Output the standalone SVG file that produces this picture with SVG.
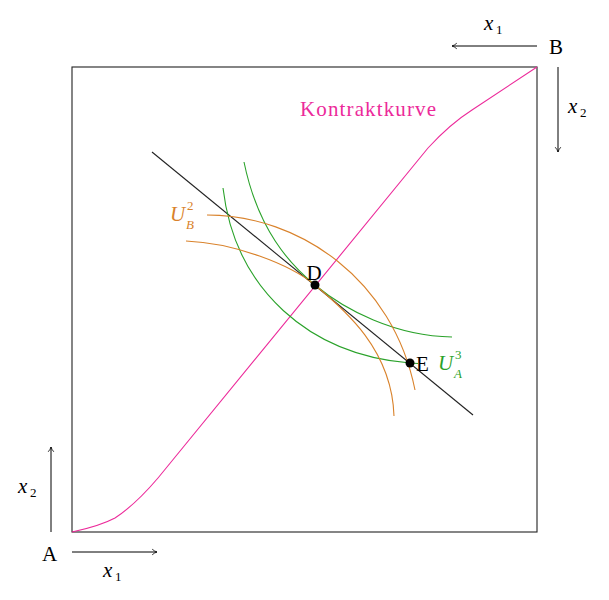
<svg xmlns="http://www.w3.org/2000/svg" width="609" height="600" viewBox="0 0 609 600">
<style>
.t{font-family:"Liberation Serif","Times New Roman",Times,"DejaVu Serif","Noto Serif",serif;font-size:21px;fill:#000}
.i{font-style:italic}
.s{font-size:13px}
.ln{fill:none;stroke-width:1.1}
.or{fill:#d9822b}
.gr{fill:#2aa22a}
</style>
<defs>
<marker id="ar" viewBox="0 0 10 10" refX="9" refY="5" markerWidth="8" markerHeight="8" orient="auto" markerUnits="userSpaceOnUse">
<path d="M3,1.5 Q6,4.2 9,5 Q6,5.8 3,8.5" fill="none" stroke="#000" stroke-width="1"/>
</marker>
</defs>
<rect width="609" height="600" fill="#fff"/>
<g id="box"><rect x="72" y="67" width="465" height="465" fill="none" stroke="#222" stroke-width="1.1"/></g>
<g id="connectors">
<line x1="537" y1="46" x2="452" y2="46" stroke="#000" stroke-width="1" marker-end="url(#ar)"/>
<line x1="558" y1="67" x2="558" y2="152" stroke="#000" stroke-width="1" marker-end="url(#ar)"/>
<line x1="51" y1="532" x2="51" y2="447" stroke="#000" stroke-width="1" marker-end="url(#ar)"/>
<line x1="72" y1="552" x2="157" y2="552" stroke="#000" stroke-width="1" marker-end="url(#ar)"/>
</g>
<g id="contract"><path class="ln" stroke="#ec2a9a" d="M72,532 Q100,526 115,518 Q135,505 158,478 L428,148 Q450,124 472,110 L537,67"/></g>
<g id="budget"><line x1="152" y1="152" x2="473" y2="415" stroke="#222" stroke-width="1.1"/></g>
<g id="greenA">
<path class="ln" stroke="#2aa22a" d="M244,162 C258,230 290,264.5 315,285 C345,310 395,336 452,337"/>
<path class="ln" stroke="#2aa22a" d="M223,188 C235,290 310,355 410,363 L418,363.5"/>
</g>
<g id="orangeB">
<path class="ln" stroke="#d9822b" d="M186,241 C235,243 290,264.5 315,285 C345,310 392,350 394,416"/>
<path class="ln" stroke="#d9822b" d="M207,215 C300,215 393,280 415,390"/>
</g>
<g id="D"><circle cx="315" cy="285" r="4.5" fill="#000"/><text class="t" x="314" y="280" text-anchor="middle">D</text></g>
<g id="E"><circle cx="410" cy="363" r="4.5" fill="#000"/><text class="t" x="416" y="371">E</text></g>
<g id="labels">
<text class="t" x="300" y="116" textLength="136" lengthAdjust="spacing" style="fill:#ec2a9a">Kontraktkurve</text>
<text class="t" x="549" y="54">B</text>
<text class="t" x="42" y="561">A</text>
<text class="t i" x="484" y="30">x</text><text class="t s" x="496" y="34">1</text>
<text class="t i" x="568" y="113">x</text><text class="t s" x="580" y="117">2</text>
<text class="t i" x="18" y="493">x</text><text class="t s" x="30" y="497">2</text>
<text class="t i" x="103" y="577">x</text><text class="t s" x="115" y="581">1</text>
<text class="t i or" x="170" y="221">U</text><text class="t s or" x="187" y="210">2</text><text class="t s i or" x="186" y="229">B</text>
<text class="t i gr" x="438" y="370">U</text><text class="t s gr" x="455" y="359">3</text><text class="t s i gr" x="454" y="378">A</text>
</g>
</svg>
